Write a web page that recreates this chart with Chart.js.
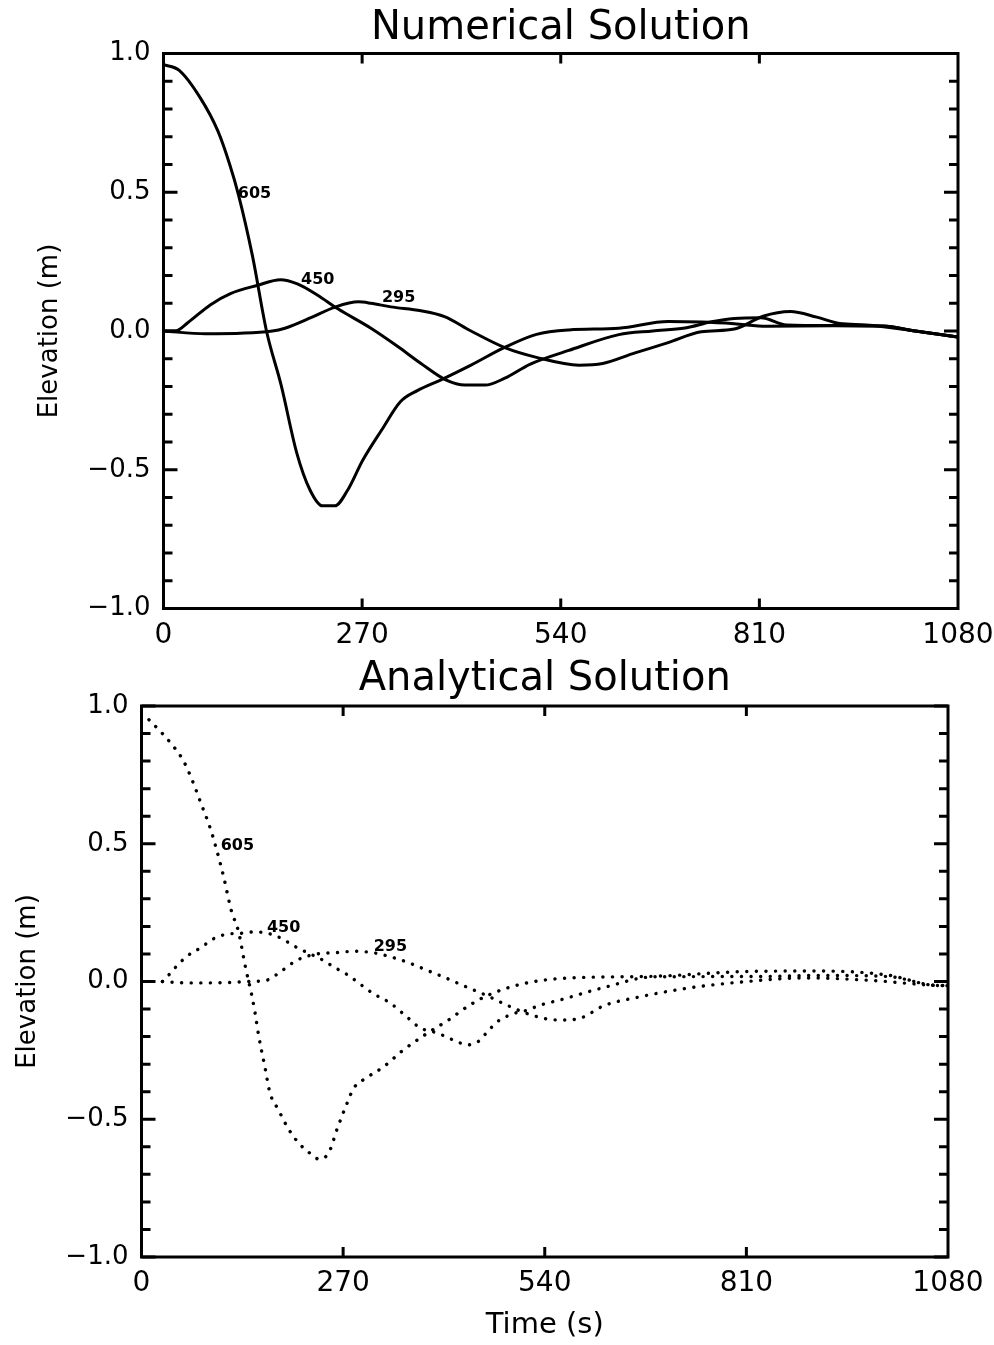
<!DOCTYPE html>
<html>
<head>
<meta charset="utf-8">
<script src="https://cdn.jsdelivr.net/npm/chart.js@4/dist/chart.umd.min.js"></script>
<style>
  html, body { margin: 0; padding: 0; background: #fff; }
  .wrap { position: absolute; left: 0; width: 994px; }
</style>
</head>
<body>
<div class="wrap" style="top:0;height:650px"><canvas id="c1"></canvas></div>
<div class="wrap" style="top:650px;height:695px"><canvas id="c2"></canvas></div>
<script>
// ---- tick labels ----
const xTicks = [0, 270, 540, 810, 1080];
const yTicks = [-1.0, -0.5, 0.0, 0.5, 1.0];
const curveNames = ['605', '450', '295'];

// ---- Numerical solution (time s, elevation m) ----
const numT605 = [0, 21, 50, 74, 90, 102, 121, 140, 160, 181, 199, 216, 233, 250, 271, 297, 322, 345, 378, 418, 463, 507, 551, 619, 686, 732, 776, 820, 911, 978, 1022, 1080];
const num605  = [0.96, 0.94, 0.84, 0.72, 0.60, 0.49, 0.27, 0.0, -0.196, -0.438, -0.572, -0.63, -0.63, -0.575, -0.465, -0.355, -0.255, -0.215, -0.175, -0.123, -0.06, -0.012, 0.004, 0.01, 0.034, 0.032, 0.026, 0.017, 0.019, 0.018, 0.0, -0.022];
const numT450 = [0, 16, 33, 64, 91, 128, 159, 182, 209, 237, 282, 318, 350, 383, 410, 437, 464, 498, 551, 619, 665, 709, 745, 776, 812, 847, 911, 978, 1022, 1080];
const num450  = [0, 0.0, 0.03, 0.095, 0.135, 0.165, 0.185, 0.17, 0.13, 0.08, 0.01, -0.055, -0.117, -0.175, -0.195, -0.195, -0.17, -0.12, -0.07, -0.013, 0.0, 0.011, 0.033, 0.045, 0.048, 0.022, 0.02, 0.018, 0.0, -0.022];
const numT295 = [0, 57, 148, 165, 202, 234, 265, 282, 309, 350, 382, 418, 464, 507, 565, 597, 641, 686, 731, 776, 815, 852, 888, 919, 955, 1022, 1080];
const num295  = [0, -0.01, 0.0, 0.01, 0.05, 0.087, 0.105, 0.1, 0.087, 0.073, 0.052, 0.0, -0.06, -0.095, -0.123, -0.117, -0.079, -0.042, -0.003, 0.007, 0.053, 0.07, 0.05, 0.027, 0.022, 0.0, -0.022];

// ---- Analytical solution ----
const anaT605 = [10, 28, 42, 56, 68, 80, 92, 100, 110, 120, 130, 139, 148, 152, 157, 165, 172, 183, 197, 210, 224, 238, 251, 262, 276, 284, 301, 324, 350, 376, 389, 411, 437, 464, 508, 562, 686, 820, 910, 1000, 1062, 1080];
const ana605  = [0.95, 0.90, 0.856, 0.802, 0.73, 0.644, 0.557, 0.484, 0.38, 0.26, 0.18, 0.055, -0.055, -0.113, -0.198, -0.307, -0.404, -0.464, -0.536, -0.585, -0.62, -0.645, -0.62, -0.535, -0.437, -0.388, -0.35, -0.31, -0.25, -0.2, -0.177, -0.14, -0.09, -0.05, -0.01, 0.011, 0.019, 0.037, 0.038, 0.023, -0.014, -0.015];
const anaT450 = [28, 31, 45, 61, 79, 97, 115, 133, 151, 169, 187, 205, 222, 240, 258, 276, 293, 311, 333, 356, 374, 388, 405, 419, 437, 451, 464, 477, 500, 513, 535, 562, 619, 686, 820, 910, 1000, 1062, 1080];
const ana450  = [0.0, 0.007, 0.05, 0.092, 0.122, 0.156, 0.172, 0.175, 0.18, 0.175, 0.157, 0.128, 0.105, 0.082, 0.052, 0.024, -0.01, -0.045, -0.078, -0.13, -0.17, -0.18, -0.197, -0.214, -0.23, -0.218, -0.18, -0.145, -0.115, -0.107, -0.085, -0.066, -0.022, 0.017, 0.018, 0.022, 0.018, -0.014, -0.015];
const anaT295 = [28, 60, 87, 114, 143, 168, 186, 208, 235, 262, 285, 311, 329, 356, 383, 410, 437, 464, 491, 518, 545, 566, 589, 619, 665, 732, 799, 888, 977, 1062, 1080];
const ana295  = [0, -0.005, -0.005, -0.004, 0.0, 0.005, 0.035, 0.077, 0.1, 0.105, 0.11, 0.104, 0.093, 0.07, 0.04, 0.01, -0.022, -0.053, -0.088, -0.118, -0.137, -0.14, -0.132, -0.088, -0.057, -0.024, -0.003, 0.013, 0.004, -0.014, -0.015];

// ---- curve label anchors (time, elevation) ----
const numLabelT = [101, 187, 297];
const numLabelV = [0.495, 0.185, 0.12];
const anaLabelT = [106, 168, 311];
const anaLabelV = [0.493, 0.196, 0.127];

const FONT = "'DejaVu Sans', 'Liberation Sans', sans-serif";
Chart.defaults.color = '#000';
Chart.defaults.font.family = FONT;

function pts(ts, vs) { return ts.map((t, i) => ({ x: t, y: vs[i] })); }
const fmt = v => (v < 0 ? '\u2212' : '') + Math.abs(v).toFixed(1);

const frame = {
  id: 'frame',
  afterDraw(chart, args, opts) {
    const { ctx, chartArea: a } = chart;
    const xs = chart.scales.x, ys = chart.scales.y;
    ctx.save();
    ctx.strokeStyle = '#000';
    ctx.lineWidth = 3;
    ctx.lineCap = 'butt';
    ctx.strokeRect(a.left, a.top, a.right - a.left, a.bottom - a.top);
    ctx.beginPath();
    for (let i = 0; i <= 20; i++) {
      const v = yTicks[0] + i * 0.1;
      const p = ys.getPixelForValue(v);
      const len = (i % 5 === 0) ? 14 : 9;
      ctx.moveTo(a.left, p); ctx.lineTo(a.left + len, p);
      ctx.moveTo(a.right, p); ctx.lineTo(a.right - len, p);
    }
    xTicks.forEach(v => {
      if (v === xTicks[0] || v === xTicks[xTicks.length - 1]) return;
      const p = xs.getPixelForValue(v);
      ctx.moveTo(p, a.bottom); ctx.lineTo(p, a.bottom - 10);
      ctx.moveTo(p, a.top); ctx.lineTo(p, a.top + 10);
    });
    ctx.stroke();
    // curve labels
    ctx.fillStyle = '#000';
    ctx.font = "bold 16px " + FONT;
    ctx.textAlign = 'left';
    ctx.textBaseline = 'middle';
    opts.labelT.forEach((t, i) => {
      ctx.fillText(curveNames[i], xs.getPixelForValue(t), ys.getPixelForValue(opts.labelV[i]));
    });
    ctx.restore();
  }
};

function makeChart(id, cfg) {
  const solid = {
    borderColor: '#000', borderWidth: 3, pointRadius: 0,
    cubicInterpolationMode: 'monotone', fill: false
  };
  const dotted = Object.assign({}, solid, {
    borderWidth: 3.4, borderDash: [0.1, 9.5], borderCapStyle: 'round'
  });
  const style = cfg.dotted ? dotted : solid;
  return new Chart(document.getElementById(id), {
    type: 'line',
    data: {
      datasets: cfg.series.map((s, i) => Object.assign({ label: curveNames[i], data: s }, style))
    },
    options: {
      responsive: true, maintainAspectRatio: false, animation: false,
      devicePixelRatio: 1,
      layout: { padding: { left: 0, right: cfg.padRight, top: 0, bottom: 0 } },
      plugins: {
        legend: { display: false },
        tooltip: { enabled: false },
        title: {
          display: true, text: cfg.title, fullSize: false,
          color: '#000',
          font: { family: FONT, size: 40, weight: 'normal', lineHeight: 1.2 },
          padding: { top: cfg.titlePadTop, bottom: cfg.titlePadBottom }
        },
        frame: { labelT: cfg.labelT, labelV: cfg.labelV }
      },
      scales: {
        x: {
          type: 'linear', min: xTicks[0], max: xTicks[xTicks.length - 1],
          afterBuildTicks: s => { s.ticks = xTicks.map(v => ({ value: v })); },
          grid: { display: false, drawTicks: false },
          border: { display: false },
          ticks: { font: { size: 28 }, padding: 10, maxRotation: 0, autoSkip: false, callback: v => String(v) },
          title: {
            display: !!cfg.xTitle, text: cfg.xTitle || '',
            font: { size: 29 }, padding: { top: 0, bottom: 2.6 }
          },
          afterFit: s => { s.height = cfg.xHeight; s.paddingLeft = 0; s.paddingRight = 0; }
        },
        y: {
          type: 'linear', min: yTicks[0], max: yTicks[yTicks.length - 1],
          afterBuildTicks: s => { s.ticks = yTicks.map(v => ({ value: v })); },
          grid: { display: false, drawTicks: false },
          border: { display: false },
          ticks: { font: { size: 26 }, padding: 13, callback: fmt },
          title: {
            display: true, text: 'Elevation (m)',
            font: { size: 26 }, padding: { top: cfg.yTitlePad, bottom: 0 }
          },
          afterFit: s => { s.width = cfg.yWidth; s.paddingTop = 0; s.paddingBottom = 0; }
        }
      }
    },
    plugins: [frame]
  });
}

makeChart('c1', {
  title: 'Numerical Solution',
  series: [pts(numT605, num605), pts(numT450, num450), pts(numT295, num295)],
  dotted: false,
  labelT: numLabelT, labelV: numLabelV,
  padRight: 36, yWidth: 163.5, xHeight: 41.5,
  titlePadTop: 5, titlePadBottom: 0.5, yTitlePad: 35
});

makeChart('c2', {
  title: 'Analytical Solution',
  series: [pts(anaT605, ana605), pts(anaT450, ana450), pts(anaT295, ana295)],
  dotted: true,
  labelT: anaLabelT, labelV: anaLabelV,
  padRight: 46, yWidth: 141.5, xHeight: 88, xTitle: 'Time (s)',
  titlePadTop: 6, titlePadBottom: 2, yTitlePad: 12.4
});
</script>
</body>
</html>
